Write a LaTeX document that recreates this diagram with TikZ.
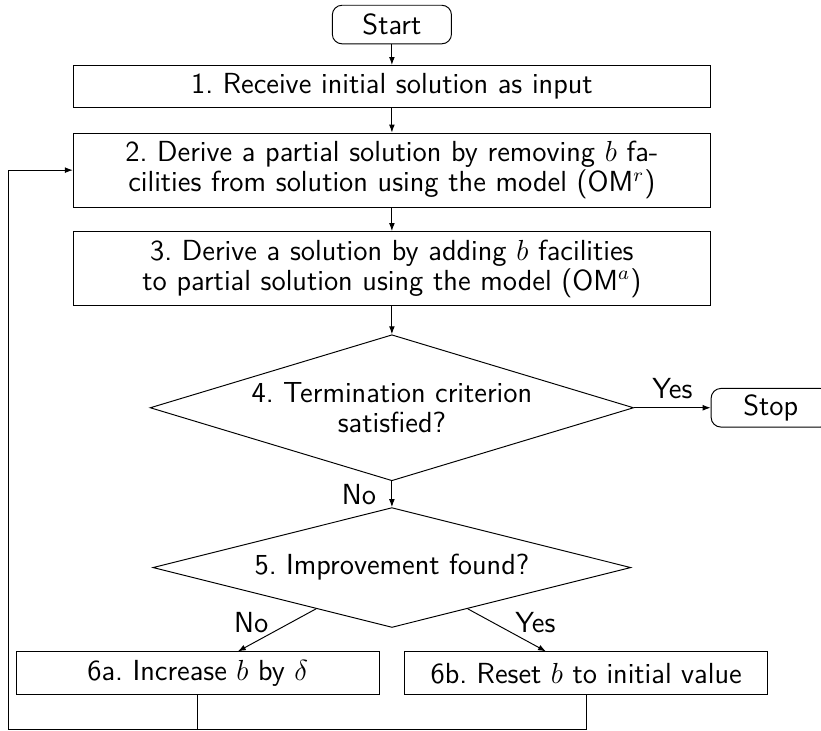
\documentclass[tikz,border=0pt]{standalone}
\usepackage{amsmath}
\usepackage{amssymb}
\usepackage{fontspec}
\usepackage{tikz}
\usetikzlibrary{arrows.meta, positioning, shapes.geometric}
\frenchspacing

\begin{document}
\begin{tikzpicture}[
  every node/.style={font=\sffamily\fontsize{12pt}{12.5pt}\selectfont},
  >={Latex[length=3.3pt, width=2.4pt]},
  termbox/.style={draw, rectangle, rounded corners=4pt, minimum width=1.73cm, minimum height=0.56cm, inner sep=2pt},
  stepbox/.style={draw, rectangle, minimum width=9.25cm, minimum height=0.6cm, text width=9.0cm, inner sep=3.33pt, align=center},
  actbox/.style={draw, rectangle, minimum width=5.27cm, minimum height=0.62cm, inner sep=2pt},
  decision/.style={draw, diamond, inner sep=-2mm, align=center},
]

% --- Frame ---
\useasboundingbox (-5.69, 0) rectangle (6.23, -10.61);

\def\loopX{-5.56}  % return line
\def\loopY{-10.59}

% Main column
\node[termbox] (start) at (0, -0.356) {Start};
\node[stepbox] (recv) at (0, -1.255) {1. Receive initial solution as input};
\node[stepbox] (remove) at (0, -2.47) {2. Derive a partial solution by removing $b$ facilities from solution using the model (OM$^r$)};
\node[stepbox] (add) at (0, -3.90) {3. Derive a solution by adding $b$ facilities to partial solution using the model (OM$^a$)};

% Decisions
\node[decision, shape aspect=3.31, minimum width=7.02cm, minimum height=2.12cm] (term) at (0, -5.92) {4. Termination criterion\\satisfied?};
\node[termbox] (stop) at (5.5, -5.92) {Stop};
\node[decision, shape aspect=3.99, minimum width=6.94cm, minimum height=1.74cm] (impr) at (0, -8.24) {5. Improvement found?};

% Updates of b
\node[actbox] (incr) at (-2.82, -9.775) {6a. Increase $b$ by $\delta$};
\node[actbox] (reset) at (2.82, -9.775) {6b. Reset $b$ to initial value};

% Arrows
\draw[->] (start) -- (recv);
\draw[->] (recv) -- (remove);
\draw[->] (remove) -- (add);
\draw[->] (add) -- (term);
\draw[->] (term) -- node[above] {Yes} (stop);
\draw[->] (term) -- node[left=3pt] {No} (impr);
\draw[->] (impr) -- node[left, yshift=3pt] {No} (incr);
\draw[->] (impr) -- node[right, yshift=3pt] {Yes} (reset);

% Loop back to step 2
\coordinate (corner) at (\loopX, \loopY);
\draw (incr.south) -- (incr.south |- corner);
\draw[->] (reset.south) |- (corner) |- (remove.west);

\end{tikzpicture}
\end{document}
